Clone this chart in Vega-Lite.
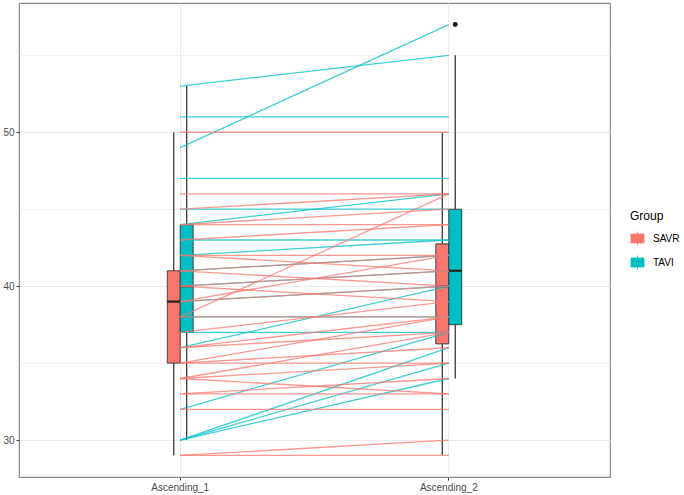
{
  "$schema": "https://vega.github.io/schema/vega-lite/v6.json",
  "width": 591,
  "height": 474,
  "autosize": {"type": "none"},
  "padding": {"left": 19, "top": 3, "right": 74, "bottom": 18},
  "background": "white",
  "config": {
    "font": "Liberation Sans",
    "view": {"stroke": "#8c8c8c", "strokeWidth": 1.2}
  },
  "datasets": {
    "pairs": [
      {"id": "T1", "Group": "TAVI", "Ascending_1": 53, "Ascending_2": 55},
      {"id": "T2", "Group": "TAVI", "Ascending_1": 49, "Ascending_2": 57},
      {"id": "T3", "Group": "TAVI", "Ascending_1": 51, "Ascending_2": 51},
      {"id": "T4", "Group": "TAVI", "Ascending_1": 47, "Ascending_2": 47},
      {"id": "T5", "Group": "TAVI", "Ascending_1": 45, "Ascending_2": 45},
      {"id": "T6", "Group": "TAVI", "Ascending_1": 44, "Ascending_2": 46},
      {"id": "T7", "Group": "TAVI", "Ascending_1": 43, "Ascending_2": 43},
      {"id": "T8", "Group": "TAVI", "Ascending_1": 42, "Ascending_2": 43},
      {"id": "T9", "Group": "TAVI", "Ascending_1": 41, "Ascending_2": 42},
      {"id": "T10", "Group": "TAVI", "Ascending_1": 40, "Ascending_2": 41},
      {"id": "T11", "Group": "TAVI", "Ascending_1": 39, "Ascending_2": 40},
      {"id": "T12", "Group": "TAVI", "Ascending_1": 38, "Ascending_2": 38},
      {"id": "T13", "Group": "TAVI", "Ascending_1": 37, "Ascending_2": 37},
      {"id": "T14", "Group": "TAVI", "Ascending_1": 36, "Ascending_2": 40},
      {"id": "T15", "Group": "TAVI", "Ascending_1": 32, "Ascending_2": 37},
      {"id": "T16", "Group": "TAVI", "Ascending_1": 30, "Ascending_2": 36},
      {"id": "T17", "Group": "TAVI", "Ascending_1": 30, "Ascending_2": 35},
      {"id": "T18", "Group": "TAVI", "Ascending_1": 30, "Ascending_2": 34},
      {"id": "S1", "Group": "SAVR", "Ascending_1": 50, "Ascending_2": 50},
      {"id": "S2", "Group": "SAVR", "Ascending_1": 46, "Ascending_2": 46},
      {"id": "S3", "Group": "SAVR", "Ascending_1": 45, "Ascending_2": 46},
      {"id": "S4", "Group": "SAVR", "Ascending_1": 44, "Ascending_2": 45},
      {"id": "S5", "Group": "SAVR", "Ascending_1": 44, "Ascending_2": 44},
      {"id": "S6", "Group": "SAVR", "Ascending_1": 43, "Ascending_2": 44},
      {"id": "S7", "Group": "SAVR", "Ascending_1": 42, "Ascending_2": 42},
      {"id": "S8", "Group": "SAVR", "Ascending_1": 42, "Ascending_2": 41},
      {"id": "S9", "Group": "SAVR", "Ascending_1": 41, "Ascending_2": 42},
      {"id": "S10", "Group": "SAVR", "Ascending_1": 41, "Ascending_2": 40},
      {"id": "S11", "Group": "SAVR", "Ascending_1": 40, "Ascending_2": 41},
      {"id": "S12", "Group": "SAVR", "Ascending_1": 40, "Ascending_2": 39},
      {"id": "S13", "Group": "SAVR", "Ascending_1": 39, "Ascending_2": 40},
      {"id": "S14", "Group": "SAVR", "Ascending_1": 39, "Ascending_2": 42},
      {"id": "S15", "Group": "SAVR", "Ascending_1": 38, "Ascending_2": 46},
      {"id": "S16", "Group": "SAVR", "Ascending_1": 38, "Ascending_2": 38},
      {"id": "S17", "Group": "SAVR", "Ascending_1": 37, "Ascending_2": 39},
      {"id": "S18", "Group": "SAVR", "Ascending_1": 36, "Ascending_2": 38},
      {"id": "S19", "Group": "SAVR", "Ascending_1": 36, "Ascending_2": 37},
      {"id": "S20", "Group": "SAVR", "Ascending_1": 35, "Ascending_2": 35},
      {"id": "S21", "Group": "SAVR", "Ascending_1": 35, "Ascending_2": 36},
      {"id": "S22", "Group": "SAVR", "Ascending_1": 35, "Ascending_2": 38},
      {"id": "S23", "Group": "SAVR", "Ascending_1": 34, "Ascending_2": 33},
      {"id": "S24", "Group": "SAVR", "Ascending_1": 34, "Ascending_2": 35},
      {"id": "S25", "Group": "SAVR", "Ascending_1": 34, "Ascending_2": 37},
      {"id": "S26", "Group": "SAVR", "Ascending_1": 33, "Ascending_2": 33},
      {"id": "S27", "Group": "SAVR", "Ascending_1": 33, "Ascending_2": 34},
      {"id": "S28", "Group": "SAVR", "Ascending_1": 32, "Ascending_2": 32},
      {"id": "S29", "Group": "SAVR", "Ascending_1": 29, "Ascending_2": 29},
      {"id": "S30", "Group": "SAVR", "Ascending_1": 29, "Ascending_2": 30}
    ],
    "boxes": [
      {"Time": "Ascending_1", "Group": "SAVR", "lower": 29, "q1": 35, "median": 39, "q3": 41, "upper": 50},
      {"Time": "Ascending_1", "Group": "TAVI", "lower": 30, "q1": 37, "median": 40, "q3": 44, "upper": 53},
      {"Time": "Ascending_2", "Group": "SAVR", "lower": 29, "q1": 36.25, "median": 40, "q3": 42.75, "upper": 50},
      {"Time": "Ascending_2", "Group": "TAVI", "lower": 34, "q1": 37.5, "median": 41, "q3": 45, "upper": 55}
    ],
    "outliers": [
      {"Time": "Ascending_2", "Group": "TAVI", "Value": 57}
    ]
  },
  "encoding": {
    "x": {
      "field": "Time",
      "type": "nominal",
      "title": null,
      "scale": {"domain": ["Ascending_1", "Ascending_2"], "paddingInner": 0.9035, "paddingOuter": 0.552},
      "axis": {
        "bandPosition": 0.5,
        "labelAngle": 0,
        "labelFontSize": 10,
        "labelColor": "#4d4d4d",
        "labelPadding": 2,
        "tickColor": "#333333",
        "tickSize": 3,
        "domain": false,
        "grid": true,
        "gridColor": "#ebebeb",
        "gridWidth": 1
      }
    }
  },
  "layer": [
    {
      "data": {"name": "boxes"},
      "mark": {"type": "rule", "color": "#3a3a3a", "strokeWidth": 1.3},
      "encoding": {
        "xOffset": {"field": "Group", "type": "nominal", "scale": {"domain": ["SAVR", "TAVI"]}},
        "y": {
          "field": "lower",
          "type": "quantitative",
          "title": null,
          "scale": {"domain": [27.6, 58.4], "nice": false, "zero": false},
          "axis": {
            "values": [30, 35, 40, 45, 50, 55],
            "labelExpr": "datum.value % 10 === 0 ? datum.label : ''",
            "labelFontSize": 10,
            "labelColor": "#4d4d4d",
            "labelPadding": 2,
            "tickSize": 3,
            "tickColor": "#333333",
            "tickOpacity": {"condition": {"test": "datum.value % 10 === 0", "value": 1}, "value": 0},
            "domain": false,
            "grid": true,
            "gridColor": "#ebebeb",
            "gridWidth": {"condition": {"test": "datum.value % 10 === 0", "value": 1.1}, "value": 0.6}
          }
        },
        "y2": {"field": "upper"}
      }
    },
    {
      "data": {"name": "boxes"},
      "mark": {"type": "bar", "stroke": "#333333", "strokeWidth": 0.9},
      "encoding": {
        "xOffset": {"field": "Group", "type": "nominal", "scale": {"domain": ["SAVR", "TAVI"]}},
        "y": {"field": "q1", "type": "quantitative"},
        "y2": {"field": "q3"},
        "fill": {
          "field": "Group",
          "type": "nominal",
          "scale": {"domain": ["SAVR", "TAVI"], "range": ["#F8766D", "#00BFC4"]},
          "legend": {
            "orient": "none",
            "legendX": 611,
            "legendY": 208,
            "padding": 0,
            "title": "Group",
            "titleFontSize": 12,
            "titleFontWeight": "normal",
            "titleColor": "#000000",
            "titlePadding": 8,
            "labelFontSize": 10,
            "labelColor": "#000000",
            "labelOffset": 8,
            "rowPadding": 5,
            "symbolType": "M-0.93,-0.64H0.93V0.64H-0.93Z M0,-0.64V-1 M0,0.64V1",
            "symbolSize": 196,
            "symbolStrokeColor": "#333333",
            "symbolStrokeWidth": 0.8,
            "symbolOpacity": 1
          }
        }
      }
    },
    {
      "data": {"name": "boxes"},
      "mark": {"type": "tick", "color": "#222222", "thickness": 2.2, "size": 13, "orient": "horizontal", "opacity": 1},
      "encoding": {
        "xOffset": {"field": "Group", "type": "nominal", "scale": {"domain": ["SAVR", "TAVI"]}},
        "y": {"field": "median", "type": "quantitative"}
      }
    },
    {
      "data": {"name": "outliers"},
      "mark": {"type": "point", "filled": true, "color": "#1a1a1a", "size": 24, "opacity": 1},
      "encoding": {
        "xOffset": {"field": "Group", "type": "nominal", "scale": {"domain": ["SAVR", "TAVI"]}},
        "y": {"field": "Value", "type": "quantitative"}
      }
    },
    {
      "data": {"name": "pairs"},
      "transform": [{"fold": ["Ascending_1", "Ascending_2"], "as": ["Time", "Value"]}],
      "mark": {"type": "line", "strokeWidth": 1.3, "opacity": 0.75},
      "encoding": {
        "x": {"field": "Time", "type": "nominal", "bandPosition": 0.5},
        "y": {"field": "Value", "type": "quantitative"},
        "detail": {"field": "id"},
        "stroke": {
          "field": "Group",
          "type": "nominal",
          "scale": {"domain": ["SAVR", "TAVI"], "range": ["#F8766D", "#00BFC4"]},
          "legend": null
        }
      }
    }
  ]
}
